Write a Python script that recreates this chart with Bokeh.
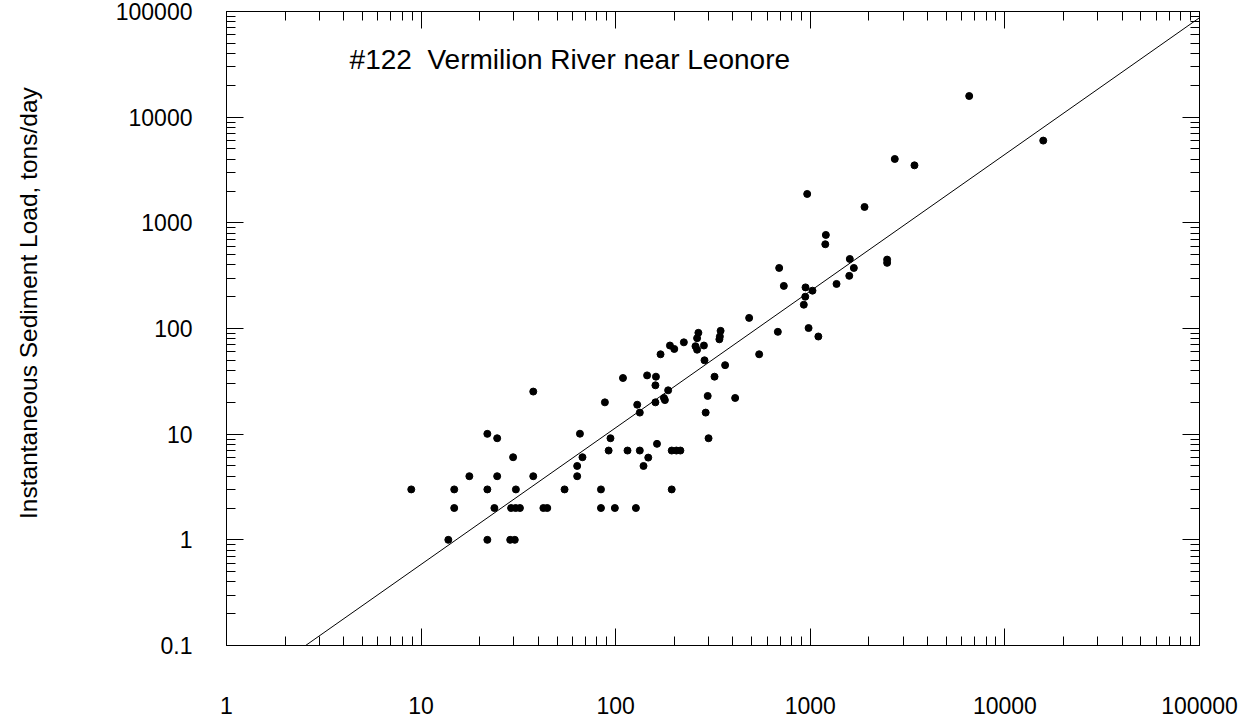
import math
from bokeh.plotting import figure
from bokeh.models import LogAxis, FixedTicker, CustomJSTickFormatter, Label, Range1d
from bokeh.embed import file_html
from bokeh.resources import INLINE

# ---- data ----
discharge = [
    37.7, 21.9, 24.6, 29.7, 17.7, 24.6, 37.7, 8.9, 14.8, 21.9, 30.7, 54.6,
    14.8, 23.8, 29.0, 30.6, 32.2, 42.5, 44.5, 13.8, 21.9, 28.7, 30.3,
    926, 485, 980, 1100, 681, 546, 266, 262, 346, 341, 343, 257, 262, 284, 224,
    190, 200, 170, 286, 365, 322, 109, 145, 161, 160, 186, 177, 179, 160, 129,
    133, 88, 297, 411, 290, 65.5, 67.5, 63.4, 63.4, 94, 92, 115, 133, 147, 139,
    163, 194, 205, 215, 300, 84, 194, 84, 99, 127,
    6555, 15740, 2717, 3430, 964, 1900, 1202, 1194, 1596, 1674, 1586, 1364,
    2482, 2482, 731, 692, 945, 942, 1026,
]
load = [
    25.3, 10.07, 9.15, 6.05, 4.0, 4.0, 4.0, 3.0, 3.0, 3.0, 3.0, 3.0,
    2.0, 2.0, 2.0, 2.0, 2.0, 2.0, 2.0, 1.0, 1.0, 1.0, 1.0,
    168, 126, 101, 84, 93, 57, 91, 81, 95, 79, 84, 68, 63, 69, 74,
    69, 64, 57, 50, 45, 35, 34, 36, 35, 29, 26, 22, 21, 20, 19,
    16, 20, 23, 22, 16, 10.1, 6.05, 5.0, 4.0, 9.15, 7.0, 7.0, 7.0, 6.0, 5.0,
    8.1, 7.0, 7.0, 7.0, 9.15, 3.0, 3.0, 2.0, 2.0, 2.0,
    15850, 6000, 4020, 3500, 1876, 1413, 768, 627, 455, 374, 315, 264,
    449, 418, 253, 374, 245, 200, 228,
]
fit_discharge = [2.55, 100000]
fit_load = [0.1, 87300]

x_major_ticks = [1, 10, 100, 1000, 10000, 100000]
y_major_ticks = [0.1, 1, 10, 100, 1000, 10000, 100000]
title_text = "#122\u00a0 Vermilion River near Leonore"
y_label_text = "Instantaneous Sediment Load, tons/day"

FONT = "Liberation Sans"

def minor_between(majors):
    out = []
    for m in majors[:-1]:
        for k in range(2, 10):
            out.append(m * k)
    return out

x_minor = minor_between(x_major_ticks)
y_minor = minor_between(y_major_ticks)

p = figure(
    x_axis_type="log", y_axis_type="log",
    x_range=Range1d(1, 100000), y_range=Range1d(0.1, 100000),
    frame_width=973, frame_height=634,
    min_border_left=226, min_border_top=11, min_border_right=45, min_border_bottom=74,
    output_backend="svg", toolbar_location=None,
    background_fill_color="white", border_fill_color="white",
)
p.grid.visible = False
p.outline_line_color = "black"
p.outline_line_width = 1

label_fmt = CustomJSTickFormatter(code="return tick.toString();")
blank_fmt = CustomJSTickFormatter(code="return '';")

def style_axis(ax, ticker, fmt, size, standoff):
    ax.ticker = ticker
    ax.formatter = fmt
    ax.axis_line_color = "black"
    ax.major_tick_line_color = "black"
    ax.minor_tick_line_color = "black"
    ax.major_tick_in = 17
    ax.major_tick_out = 0
    ax.minor_tick_in = 9
    ax.minor_tick_out = 0
    ax.major_label_text_font = FONT
    ax.major_label_text_font_size = size
    ax.major_label_text_color = "black"
    ax.major_label_standoff = standoff

xt = FixedTicker(ticks=x_major_ticks, minor_ticks=x_minor)
yt = FixedTicker(ticks=y_major_ticks, minor_ticks=y_minor)

style_axis(p.xaxis[0], xt, label_fmt, "23px", 51)
style_axis(p.yaxis[0], yt, label_fmt, "23px", 34)
p.yaxis[0].major_label_text_baseline = "top"

top_ax = LogAxis()
style_axis(top_ax, FixedTicker(ticks=x_major_ticks, minor_ticks=x_minor), blank_fmt, "1px", 0)
p.add_layout(top_ax, "above")
right_ax = LogAxis()
style_axis(right_ax, FixedTicker(ticks=y_major_ticks, minor_ticks=y_minor), blank_fmt, "1px", 0)
p.add_layout(right_ax, "right")

p.line(fit_discharge, fit_load, line_color="black", line_width=1)
p.scatter(discharge, load, size=7, color="black")

p.add_layout(Label(x=4.29, y=34800, text=title_text, text_font=FONT,
                   text_font_size="28px", text_color="black",
                   text_align="left", text_baseline="alphabetic"))

# y-axis caption, placed in the left side panel so it is not clipped to the frame
p.add_layout(Label(x=0.0961, y=174, text=y_label_text, text_font=FONT,
                   text_font_size="24.5px", text_color="black", angle=math.pi / 2,
                   text_align="center", text_baseline="middle"), "left")

open("out.html", "w").write(file_html(p, INLINE))
